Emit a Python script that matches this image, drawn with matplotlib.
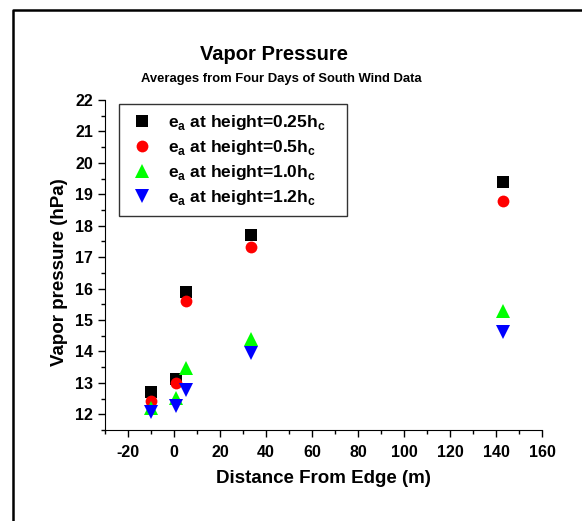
import matplotlib
matplotlib.use("Agg")
import matplotlib.pyplot as plt
from matplotlib.lines import Line2D
from matplotlib.ticker import MultipleLocator

# Distance from edge (m) and vapor pressure averages (hPa)
distance = [-10, 1, 5, 33.5, 143]
ea_025 = [12.72, 13.11, 15.90, 17.71, 19.38]
ea_05 = [12.42, 12.99, 15.59, 17.31, 18.79]
ea_10 = [12.21, 12.51, 13.48, 14.39, 15.30]
ea_12 = [12.08, 12.26, 12.77, 13.96, 14.63]

labels = ["0.25", "0.5", "1.0", "1.2"]

plt.rcParams["font.family"] = ["Liberation Sans", "DejaVu Sans"]
plt.rcParams["font.weight"] = "bold"
plt.rcParams["axes.unicode_minus"] = False
plt.rcParams["mathtext.fontset"] = "custom"
plt.rcParams["mathtext.bf"] = "Liberation Sans:bold"
plt.rcParams["mathtext.rm"] = "Liberation Sans:bold"

W, H = 582, 521
fig = plt.figure(figsize=(W / 100, H / 100), dpi=100)
ax = fig.add_axes([105 / W, 1 - 430 / H, (542 - 105) / W, (430 - 100) / H])

# outer frame (left and top edge only visible)
fig.add_artist(Line2D([13 / W, 13 / W, 1.0], [0.0, 1 - 10 / H, 1 - 10 / H],
                      transform=fig.transFigure, color="black", lw=1.8))

series = [
    (ea_025, "s", "black", 8),
    (ea_05, "o", "red", 8.5),
    (ea_10, "^", "#00ff00", 9.5),
    (ea_12, "v", "#0000ff", 9.5),
]
for (vals, mk, col, ms), lab in zip(series, labels):
    ax.plot(distance, vals, linestyle="none", marker=mk, color=col, markersize=ms,
            markeredgewidth=0,
            label=r"e$_{\mathbf{a}}$ at height=" + lab + r"h$_{\mathbf{c}}$")

ax.set_xlim(-30, 160)
ax.set_ylim(11.5, 22)
ax.xaxis.set_major_locator(MultipleLocator(20))
ax.xaxis.set_minor_locator(MultipleLocator(10))
ax.yaxis.set_major_locator(MultipleLocator(1))
ax.yaxis.set_minor_locator(MultipleLocator(0.5))
ax.set_xticks(range(-20, 161, 20))
ax.tick_params(which="major", direction="out", length=5, width=1, labelsize=11.5)
ax.tick_params(which="minor", direction="out", length=3, width=1)
ax.tick_params(axis="x", which="major", pad=6)
for lab in ax.get_xticklabels() + ax.get_yticklabels():
    lab.set_fontweight("bold")
ax.spines["top"].set_visible(False)
ax.spines["right"].set_visible(False)

ax.set_xlabel("Distance From Edge (m)", fontsize=13.5, fontweight="bold", labelpad=7)
ax.set_ylabel("Vapor pressure (hPa)", fontsize=13.5, fontweight="bold")
ax.yaxis.set_label_coords(-0.085, 0.479)

fig.text(274 / W, 1 - 54 / H, "Vapor Pressure", fontsize=14.5, fontweight="bold",
         ha="center", va="center")
fig.text(281 / W, 1 - 79 / H, "Averages from Four Days of South Wind Data", fontsize=9.4,
         fontweight="bold", ha="center", va="center")

# legend box stretched to the reference width
leg = fig.legend(loc="upper left", bbox_to_anchor=(119 / W, 1 - 214 / H, 228 / W, 110 / H),
                 mode="expand", borderaxespad=0,
                 fontsize=12.5, frameon=True, fancybox=False, handletextpad=0.6,
                 labelspacing=0.35, borderpad=0.5, handlelength=1.7)
leg.get_frame().set_edgecolor("black")
leg.get_frame().set_linewidth(1)
for t in leg.get_texts():
    t.set_fontweight("bold")

fig.savefig("out.png", dpi=100)
